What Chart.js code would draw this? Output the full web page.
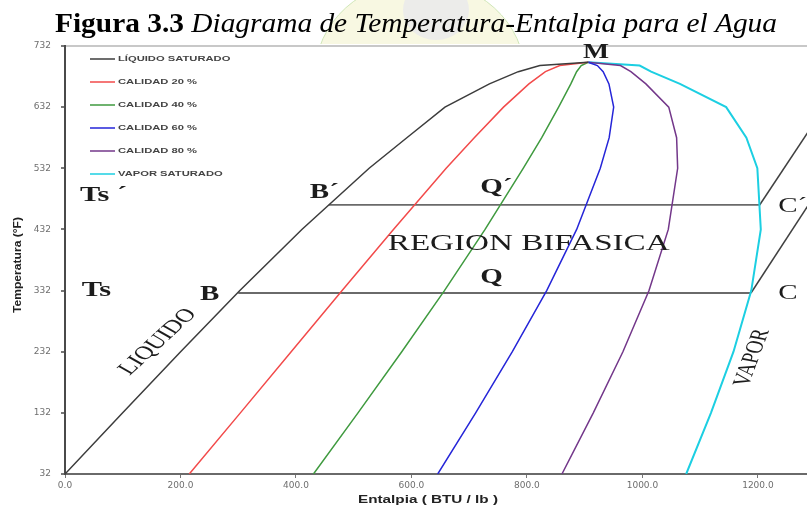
<!DOCTYPE html>
<html lang="es">
<head>
<meta charset="utf-8">
<title>Diagrama de Temperatura-Entalpia para el Agua</title>
<script src="https://cdn.jsdelivr.net/npm/chart.js@4.4.1/dist/chart.umd.min.js"></script>
<style>
  html, body { margin: 0; padding: 0; background: #fff; overflow: hidden; }
  #wrap { width: 807px; height: 508px; }
</style>
</head>
<body>
<div id="wrap"><canvas id="diagrama" width="807" height="508"></canvas></div>
<script>
// Temperatura de saturacion (°F) de cada punto de las curvas
const temperaturas = [32, 132, 232, 332, 432, 532, 582, 632, 670, 690, 700, 705.4];

const liquidoSaturado = [0.0, 99.9, 200.2, 302.8, 410.2, 526.7, 592.0, 658.0, 735.0, 785.0, 822.4, 906.0];
const calidad20 = [215.2, 303.7, 391.7, 479.9, 568.8, 660.1, 708.8, 759.4, 803.4, 832.0, 856.9, 906.0];
const calidad40 = [430.3, 507.4, 583.2, 657.1, 727.5, 793.5, 825.6, 854.8, 876.0, 886.0, 894.0, 906.0];
const calidad60 = [645.5, 711.2, 774.7, 834.2, 886.1, 927.0, 942.4, 950.2, 942.0, 932.0, 922.0, 906.0];
const calidad80 = [860.6, 914.9, 966.2, 1011.4, 1044.8, 1061.0, 1059.2, 1045.6, 1006.0, 980.0, 962.0, 906.0];
const vaporSaturado = [1075.8, 1118.7, 1157.7, 1188.5, 1205.0, 1199.0, 1180.0, 1145.0, 1065.0, 1015.0, 995.2, 906.0];

// Lineas de presion constante: B-Q-C (Ts) y B'-Q'-C' (Ts')
const lineaTsH = [300.0, 1188.0];
const lineaTsT = [328, 328];
const lineaTs2H = [457.0, 1203.0];
const lineaTs2T = [472, 472];
// Tramos de vapor sobrecalentado desde C y C'
const sobreCH = [1188.0, 1300.0];
const sobreCT = [328, 490];
const sobreC2H = [1203.0, 1300.0];
const sobreC2T = [472, 610];

// Marcas de los ejes
const ticksTemperatura = [32, 132, 232, 332, 432, 532, 632, 732];
const ticksEntalpia = [0, 200, 400, 600, 800, 1000, 1200];

const serif = '"Liberation Serif", "Times New Roman", serif';
const sans = '"Liberation Sans", Arial, sans-serif';
const ancho = 1.38; // la figura original esta ensanchada en horizontal

function puntos(hs, ts) {
    return hs.map((h, i) => ({ x: h, y: ts[i] }));
}

function serie(label, hs, ts, color, grosor) {
    return {
        label: label,
        data: puntos(hs, ts),
        borderColor: color,
        backgroundColor: color,
        borderWidth: grosor || 1.5,
        showLine: true,
        pointRadius: 0,
        tension: 0,
        fill: false
    };
}

// Textos dentro del grafico (posicion en unidades del diagrama)
const anotaciones = [
    { txt: 'Ts ´', h: 26, t: 488, size: 22, bold: true },
    { txt: 'Ts', h: 29, t: 333, size: 22, bold: true },
    { txt: 'B´', h: 424, t: 492, size: 21, bold: true },
    { txt: 'B', h: 234, t: 325, size: 21, bold: true },
    { txt: 'Q´', h: 719, t: 500, size: 21, bold: true },
    { txt: 'Q', h: 719, t: 354, size: 21, bold: true },
    { txt: 'REGION BIFASICA', h: 559, t: 408, size: 24, bold: false },
    { txt: 'M', h: 897, t: 721, size: 20, bold: true },
    { txt: 'C´', h: 1235, t: 469, size: 21, bold: false },
    { txt: 'C', h: 1235, t: 328, size: 21, bold: false },
    { txt: 'LIQUIDO', h: 161, t: 248, size: 19, bold: false, giro: -51.6 },
    { txt: 'VAPOR', h: 1190, t: 222, size: 18, bold: false, giro: -75 }
];

function textoAncho(ctx, txt, x, y, font, align, sx) {
    ctx.save();
    ctx.font = font;
    ctx.textAlign = align || 'left';
    ctx.textBaseline = 'middle';
    ctx.translate(x, y);
    ctx.scale(sx || ancho, 1);
    ctx.fillText(txt, 0, 0);
    ctx.restore();
}

const fondoPlugin = {
    id: 'fondo',
    beforeDraw(chart) {
        const ctx = chart.ctx;
        ctx.save();
        ctx.beginPath();
        ctx.rect(0, 0, chart.width, 44);
        ctx.clip();
        // marca de agua tenue detras del titulo
        ctx.beginPath();
        ctx.ellipse(420, 75, 105, 95, 0, 0, Math.PI * 2);
        ctx.fillStyle = '#f8f8e2';
        ctx.fill();
        ctx.strokeStyle = '#cfe6b8';
        ctx.lineWidth = 1;
        ctx.stroke();
        ctx.beginPath();
        ctx.ellipse(436, 10, 33, 30, 0, 0, Math.PI * 2);
        ctx.fillStyle = '#ececea';
        ctx.fill();
        ctx.restore();
    }
};

const textosPlugin = {
    id: 'textos',
    afterDraw(chart) {
        const ctx = chart.ctx;
        const sx = chart.scales.x, sy = chart.scales.y;

        // Titulo
        ctx.save();
        const fBold = 'bold 28px ' + serif;
        const fItal = 'italic 28px ' + serif;
        const parte1 = 'Figura 3.3', parte2 = ' Diagrama de Temperatura-Entalpia para el Agua';
        ctx.font = fBold;
        const w1 = ctx.measureText(parte1).width;
        ctx.font = fItal;
        const w2 = ctx.measureText(parte2).width;
        const esc = 722 / (w1 + w2);
        ctx.fillStyle = '#000';
        ctx.textBaseline = 'alphabetic';
        ctx.translate(55, 32);
        ctx.scale(esc, 1);
        ctx.font = fBold;
        ctx.fillText(parte1, 0, 0);
        ctx.font = fItal;
        ctx.fillText(parte2, w1, 0);
        ctx.restore();

        // Leyenda
        const series = chart.data.datasets.slice(0, 6);
        series.forEach((ds, i) => {
            const y = 59 + i * 23;
            ctx.save();
            ctx.strokeStyle = ds.borderColor;
            ctx.lineWidth = 1.5;
            ctx.beginPath();
            ctx.moveTo(90, y);
            ctx.lineTo(115, y);
            ctx.stroke();
            ctx.restore();
            ctx.fillStyle = '#444';
            textoAncho(ctx, ds.label, 118, y, 'bold 8px ' + sans, 'left', 1.4);
        });

        // Rotulos del diagrama
        anotaciones.forEach(a => {
            const x = sx.getPixelForValue(a.h);
            const y = sy.getPixelForValue(a.t);
            const font = (a.bold ? 'bold ' : '') + a.size + 'px ' + serif;
            ctx.save();
            ctx.fillStyle = '#1c1c1c';
            ctx.font = font;
            ctx.textBaseline = 'middle';
            ctx.translate(x, y);
            ctx.scale(ancho, 1);
            if (a.giro) {
                ctx.textAlign = 'center';
                ctx.rotate(a.giro * Math.PI / 180);
            } else {
                ctx.textAlign = 'left';
            }
            ctx.fillText(a.txt, 0, 0);
            ctx.restore();
        });

        // Titulos de los ejes
        ctx.save();
        ctx.fillStyle = '#222';
        ctx.font = 'bold 11px ' + sans;
        let w = ctx.measureText('Entalpia ( BTU / lb )').width;
        textoAncho(ctx, 'Entalpia ( BTU / lb )', 428, 500, 'bold 11px ' + sans, 'center', 140 / w);
        ctx.font = 'bold 10px ' + sans;
        w = ctx.measureText('Temperatura (°F)').width;
        ctx.translate(18, 265);
        ctx.rotate(-Math.PI / 2);
        ctx.scale(96 / w, 1.1);
        ctx.textAlign = 'center';
        ctx.textBaseline = 'middle';
        ctx.fillText('Temperatura (°F)', 0, 0);
        ctx.restore();
    }
};

new Chart(document.getElementById('diagrama').getContext('2d'), {
    type: 'scatter',
    data: {
        datasets: [
            serie('LÍQUIDO SATURADO', liquidoSaturado, temperaturas, '#3c3c3c'),
            serie('CALIDAD 20 %', calidad20, temperaturas, '#f24a4a'),
            serie('CALIDAD 40 %', calidad40, temperaturas, '#3f9a3f'),
            serie('CALIDAD 60 %', calidad60, temperaturas, '#2525d8'),
            serie('CALIDAD 80 %', calidad80, temperaturas, '#73378a'),
            serie('VAPOR SATURADO', vaporSaturado, temperaturas, '#1ccfe2', 2),
            serie('Ts', lineaTsH, lineaTsT, '#6a6a6a', 1.8),
            serie("Ts'", lineaTs2H, lineaTs2T, '#6a6a6a', 1.8),
            serie('C', sobreCH, sobreCT, '#404040', 1.5),
            serie("C'", sobreC2H, sobreC2T, '#404040', 1.5)
        ]
    },
    options: {
        responsive: false,
        devicePixelRatio: 1,
        animation: false,
        events: [],
        layout: { padding: { top: 46, right: 0, left: 0, bottom: 0 } },
        plugins: {
            legend: { display: false },
            tooltip: { enabled: false }
        },
        scales: {
            x: {
                type: 'linear',
                min: 0,
                max: 1285,
                afterBuildTicks: s => { s.ticks = ticksEntalpia.map(v => ({ value: v })); },
                afterFit: s => { s.height = 34; },
                grid: { drawOnChartArea: false, drawTicks: true, tickLength: 4, tickColor: '#777' },
                border: { display: true, color: '#6a6a6a', width: 2 },
                ticks: {
                    padding: 2,
                    color: '#6e6e6e',
                    font: { family: 'DejaVu Sans', size: 9 },
                    callback: v => Number(v).toFixed(1)
                }
            },
            y: {
                type: 'linear',
                min: 32,
                max: 732,
                afterBuildTicks: s => { s.ticks = ticksTemperatura.map(v => ({ value: v })); },
                afterFit: s => { s.width = 65; },
                grid: {
                    color: c => (c.tick && c.tick.value === 732) ? '#c8c8c8' : 'rgba(0,0,0,0)',
                    lineWidth: 2,
                    tickLength: 4,
                    tickColor: '#777'
                },
                border: { display: true, color: '#4a4a4a', width: 2 },
                ticks: {
                    padding: 10,
                    color: '#6e6e6e',
                    font: { family: 'DejaVu Sans', size: 9 },
                    callback: v => String(v)
                }
            }
        }
    },
    plugins: [fondoPlugin, textosPlugin]
});
</script>
</body>
</html>
